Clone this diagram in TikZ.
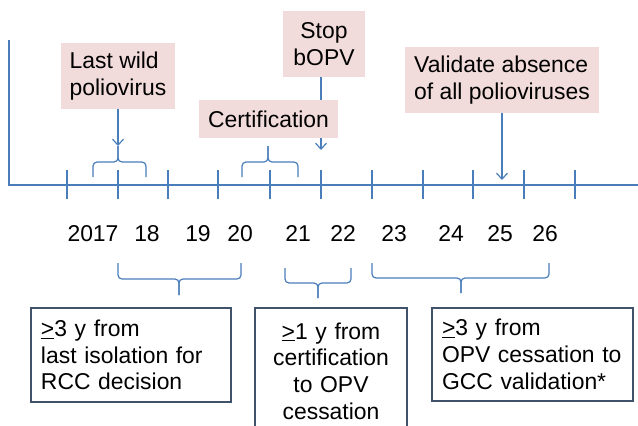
\documentclass[tikz,border=0pt]{standalone}
\usepackage{fontspec}
\setmainfont{Liberation Sans}
\usetikzlibrary{arrows.meta, positioning}
\definecolor{axisblue}{RGB}{74,126,187}
\definecolor{notepink}{RGB}{242,220,219}
\definecolor{boxslate}{RGB}{64,82,106}

\begin{document}
\begin{tikzpicture}[
  x=1bp, y=1bp,
  every node/.style={font=\fontsize{22.9bp}{26.7bp}\selectfont, text=black},
  axis/.style={draw=axisblue, line width=1.2bp},
  curly/.style={draw=axisblue, line width=1.2bp, rounded corners=4bp},
  arrow/.style={draw=axisblue, line width=1.2bp, -{Straight Barb[length=6bp, width=11bp]}},
  event/.style={fill=notepink, align=left, inner xsep=9bp, minimum height=66bp},
  span/.style={draw=boxslate, fill=white, line width=1.2bp, inner xsep=10bp},
  year/.style={anchor=base}
]
\useasboundingbox (0,0) rectangle (638,425);
\clip (0,0) rectangle (638,425);

% time axis
\draw[axis] (9,385) -- (9,240) -- (638,240);
\foreach \x in {67,118,168,218,270,321,372,423,473,524,575}
  \draw[axis] (\x,226) -- (\x,255);
\foreach \x/\yr in {93/2017,147/18,198/19,240/20,298/21,343/22,394/23,451/24,500/25,545/26}
  \node[year] (yr\yr) at (\x,184) {\yr};

% events
\node[event, minimum width=112bp] (lastwild) at (118,349) {Last wild\\poliovirus};
\node[event, minimum width=82bp, align=center] (stopbopv) at (324,381) {Stop\\bOPV};
\coordinate (stoptip) at (321,275);
\draw[arrow] (stopbopv.south -| stoptip) -- (stoptip);
\node[event, minimum width=135bp, minimum height=38bp] (certif) at (268.5,306) {Certification};
\node[event, minimum width=190bp] (validate) at (502,345) {Validate absence\\of all polioviruses};

\coordinate (wildtip) at (118,279);
\coordinate (certtip) at (268,279);
\coordinate (validtip) at (502,245);
\draw[arrow] (lastwild) -- (wildtip);
\draw[arrow] (validate) -- (validtip);

% braces above the axis
\draw[curly] (93,248) |- (118,263) -- (wildtip);
\draw[curly] (146,248) |- (118,263) -- (wildtip);
\draw[curly] (242,248) |- (268,263) -- (certtip);
\draw[curly] (298,248) |- (268,263) -- (certtip);

% braces below the years
\draw[curly] (118,162) |- (179,146) -- (179,130);
\draw[curly] (241,162) |- (179,146) -- (179,130);
\draw[curly] (285,157) |- (318,142) -- (318,127);
\draw[curly] (351,157) |- (318,142) -- (318,127);
\draw[curly] (372,162) |- (461,147) -- (461,132);
\draw[curly] (549,162) |- (461,147) -- (461,132);

% spans
\node[span, text width=180bp, minimum height=94bp, align=left] (rccbox) at (131,70)
  {\underline{>}3 y from\\last isolation for\\RCC decision};
\node[span, text width=132bp, minimum height=126bp, align=center] (opvbox) at (331,54)
  {\underline{>}1 y from\\certification\\to OPV\\cessation};
\node[span, text width=181bp, minimum height=93bp, align=left] (gccbox) at (532.5,70.5)
  {\underline{>}3 y from\\OPV cessation to\\GCC validation*};
\end{tikzpicture}
\end{document}
